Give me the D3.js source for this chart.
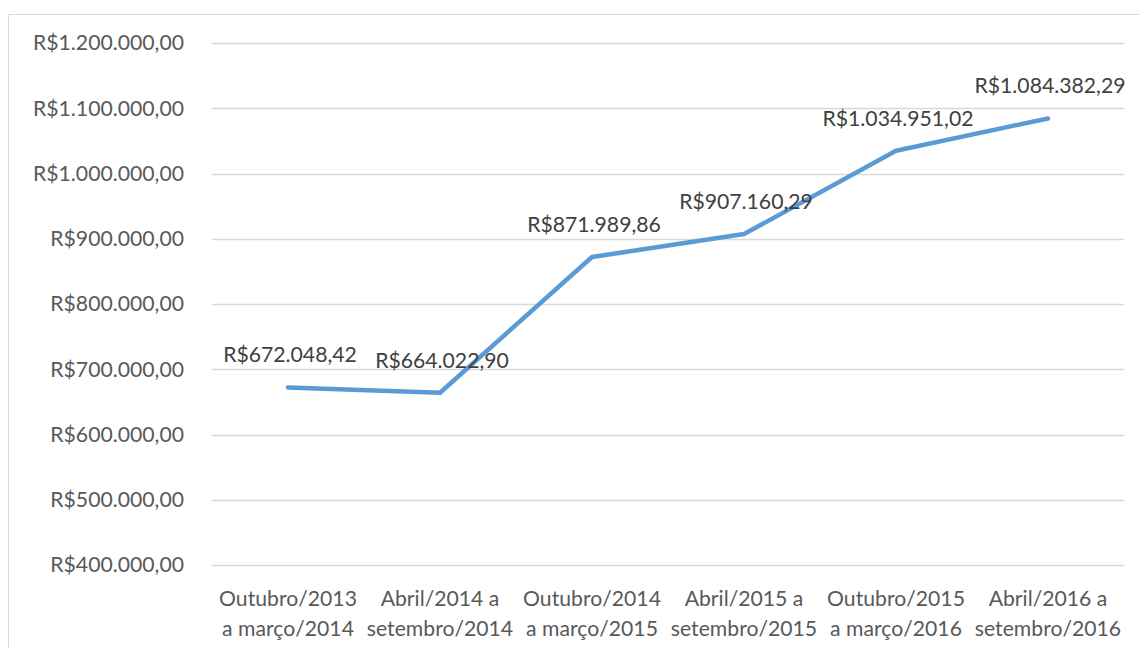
<!DOCTYPE html>
<html>
<head>
<meta charset="utf-8">
<script src="https://cdn.jsdelivr.net/npm/d3@7"></script>
<style>
  body { margin: 0; background: #fff; }
  svg { display: block; font-family: Lato, "Open Sans", sans-serif; }
</style>
</head>
<body>
<svg id="chart" width="1139" height="648"></svg>
<script>
// DATA
const periods = [
  ["Outubro/2013", "a março/2014"],
  ["Abril/2014 a", "setembro/2014"],
  ["Outubro/2014", "a março/2015"],
  ["Abril/2015 a", "setembro/2015"],
  ["Outubro/2015", "a março/2016"],
  ["Abril/2016 a", "setembro/2016"]
];
const values = [672048.42, 664022.90, 871989.86, 907160.29, 1034951.02, 1084382.29];
const yTicks = [400000, 500000, 600000, 700000, 800000, 900000, 1000000, 1100000, 1200000];

// UTILS
const brl = d3.formatLocale({ decimal: ",", thousands: ".", grouping: [3], currency: ["R$", ""] });
const fmt = brl.format("$,.2f");
const fs = 21.2;

// RENDER
const svg = d3.select("#chart");
const margin = { left: 212, right: 15, top: 43, bottom: 83 };
const width = 1139, height = 648;

svg.append("rect")
  .attr("x", 8.5).attr("y", 14.5)
  .attr("width", 1140).attr("height", 640)
  .attr("fill", "none").attr("stroke", "#d9d9d9");

const x = d3.scaleBand()
  .domain(d3.range(periods.length))
  .range([margin.left, width - margin.right]);

const y = d3.scaleLinear()
  .domain([400000, 1200000])
  .range([height - margin.bottom, margin.top]);

// gridlines
svg.append("g")
  .selectAll("line")
  .data(yTicks)
  .join("line")
  .attr("x1", margin.left).attr("x2", width - margin.right)
  .attr("y1", d => Math.round(y(d)) + 0.5).attr("y2", d => Math.round(y(d)) + 0.5)
  .attr("stroke", "#d9d9d9").attr("stroke-width", 1.3);

// y labels
svg.append("g")
  .selectAll("text")
  .data(yTicks)
  .join("text")
  .attr("x", 184)
  .attr("y", d => y(d))
  .attr("dy", "0.35em")
  .attr("text-anchor", "end")
  .attr("font-size", fs)
  .attr("fill", "#595959")
  .text(d => fmt(d));

// x labels
const xl = svg.append("g")
  .selectAll("text")
  .data(periods)
  .join("text")
  .attr("text-anchor", "middle")
  .attr("font-size", fs)
  .attr("fill", "#595959");
xl.append("tspan")
  .attr("x", (_, i) => x(i) + x.bandwidth() / 2)
  .attr("y", 606)
  .text(d => d[0]);
xl.append("tspan")
  .attr("x", (_, i) => x(i) + x.bandwidth() / 2)
  .attr("y", 636)
  .text(d => d[1]);

// line
const line = d3.line()
  .x((_, i) => x(i) + x.bandwidth() / 2)
  .y(d => y(d));

svg.append("path")
  .datum(values)
  .attr("d", line)
  .attr("fill", "none")
  .attr("stroke", "#5b9bd5")
  .attr("stroke-width", 4.5)
  .attr("stroke-linejoin", "round")
  .attr("stroke-linecap", "round");

// data labels
svg.append("g")
  .selectAll("text")
  .data(values)
  .join("text")
  .attr("x", (_, i) => x(i) + x.bandwidth() / 2 + 2)
  .attr("y", d => y(d) - 25)
  .attr("text-anchor", "middle")
  .attr("font-size", fs)
  .attr("fill", "#404040")
  .text(d => fmt(d));
</script>
</body>
</html>
